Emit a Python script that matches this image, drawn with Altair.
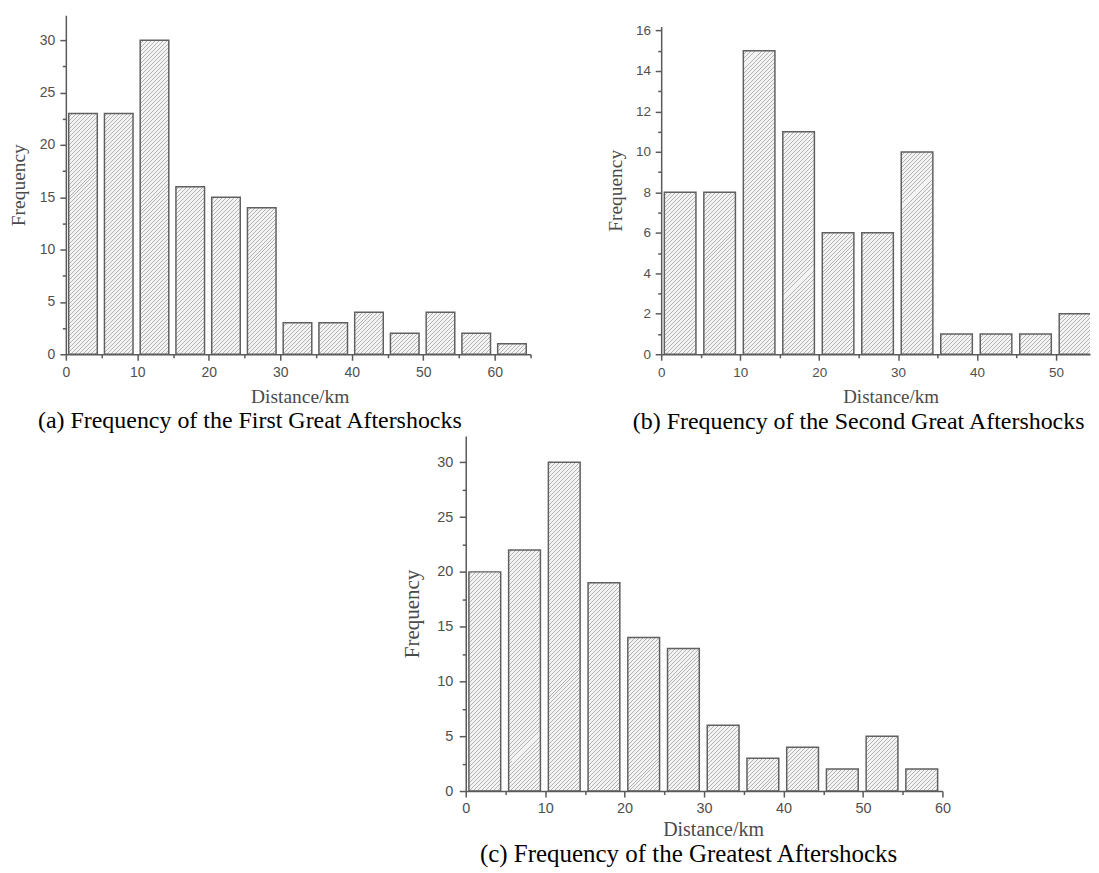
import altair as alt
import pandas as pd

# ---------------- data ----------------
bins_a = [0, 5, 10, 15, 20, 25, 30, 35, 40, 45, 50, 55, 60]
freq_a = [23, 23, 30, 16, 15, 14, 3, 3, 4, 2, 4, 2, 1]

bins_b = [0, 5, 10, 15, 20, 25, 30, 35, 40, 45, 50]
freq_b = [8, 8, 15, 11, 6, 6, 10, 1, 1, 1, 2]

bins_c = [0, 5, 10, 15, 20, 25, 30, 35, 40, 45, 50, 55]
freq_c = [20, 22, 30, 19, 14, 13, 6, 3, 4, 2, 5, 2]

xticks_a = [0, 10, 20, 30, 40, 50, 60]
xminor_a = [5, 15, 25, 35, 45, 55, 65]
yticks_a = [0, 5, 10, 15, 20, 25, 30]
yminor_a = [2.5, 7.5, 12.5, 17.5, 22.5, 27.5]

xticks_b = [0, 10, 20, 30, 40, 50]
xminor_b = [5, 15, 25, 35, 45]
yticks_b = [0, 2, 4, 6, 8, 10, 12, 14, 16]
yminor_b = [1, 3, 5, 7, 9, 11, 13, 15]

xticks_c = [0, 10, 20, 30, 40, 50, 60]
xminor_c = [5, 15, 25, 35, 45, 55]
yticks_c = [0, 5, 10, 15, 20, 25, 30]
yminor_c = [2.5, 7.5, 12.5, 17.5, 22.5, 27.5]

caption_a = "(a) Frequency of the First Great Aftershocks"
caption_b = "(b) Frequency of the Second Great Aftershocks"
caption_c = "(c) Frequency of the Greatest Aftershocks"
x_title = "Distance/km"
y_title = "Frequency"

# ---------------- style ----------------
BAR_L, BAR_R = 0.4, 4.4          # bar inset inside each 5 km bin
AXIS_COL = "#5a5a5a"
BG = "#f3f3f3"
FG = "#b4b4b4"


def hatch(w, h, spacing=4.0, line=1.0):
    """Diagonal '/' hatch as a linear gradient in bbox units."""
    L = w + h
    k = L / (w * w + h * h)
    stops = []
    s = 0.0
    while s < L:
        a = round(s / L, 5)
        b = round(min((s + spacing - line) / L, 1.0), 5)
        c = round(min((s + spacing) / L, 1.0), 5)
        stops += [
            {"offset": a, "color": BG},
            {"offset": b, "color": BG},
            {"offset": b, "color": FG},
            {"offset": c, "color": FG},
        ]
        s += spacing
    return {"gradient": "linear", "x1": 0, "y1": 0,
            "x2": round(k * w, 6), "y2": round(k * h, 6), "stops": stops}


AX = dict(domainColor=AXIS_COL, domainWidth=1.5, tickColor=AXIS_COL, tickWidth=1.5,
          grid=False, labelColor="#505050", labelFont="Liberation Sans",
          titleFont="Liberation Serif", titleColor="#4a4a4a", titleFontWeight="normal",
          labelFlush=False, labelOverlap=False, zindex=1, format="d")

MINOR = dict(labels=False, domain=False, title=None, grid=False, ticks=True,
             tickColor=AXIS_COL, tickWidth=1.5, tickSize=3.5, zindex=1)


def panel(bins, freq, xmax, ymax, width, height, ytop, xt, xm, yt, ym, p, caption):
    df = pd.DataFrame({"start": bins, "freq": freq})
    pxx = width / xmax
    pxy = (height - ytop) / ymax
    conds = [{"test": f"datum.start == {s}", "value": hatch((BAR_R - BAR_L) * pxx, f * pxy)}
             for s, f in zip(bins, freq)]
    xs = alt.Scale(domain=[0, xmax], nice=False, zero=False)
    ys = alt.Scale(domain=[0, ymax], nice=False, range=[height, ytop])
    base = alt.Chart(df).transform_calculate(
        x0=f"datum.start + {BAR_L}", x1=f"datum.start + {BAR_R}")

    x_major = alt.Axis(values=xt, orient="bottom", tickSize=6, labelPadding=p["xlp"],
                       labelFontSize=p["lfs"], title=x_title, titleFontSize=p["xtfs"],
                       titlePadding=p["xtp"], titleX=p["xtx"], **AX)
    y_major = alt.Axis(values=yt, orient="left", tickSize=p["yts"], labelPadding=p["ylp"],
                       labelFontSize=p["lfs"], title=y_title, titleFontSize=p["ytfs"],
                       titlePadding=p["ytp"], **AX)
    x_minor = alt.Axis(values=xm, orient="bottom", **MINOR)
    y_minor = alt.Axis(values=ym, orient="left", **MINOR)

    bars = base.mark_rect(stroke="#606060", strokeWidth=1.5, clip=True).encode(
        x=alt.X("x0:Q", scale=xs, axis=x_major),
        x2="x1:Q",
        y=alt.Y("freq:Q", scale=ys, axis=y_major),
        y2=alt.datum(0),
        fill=alt.value(BG, condition=conds),
    )
    minor = base.mark_rect(opacity=0).encode(
        x=alt.X("x0:Q", scale=xs, axis=x_minor),
        x2="x1:Q",
        y=alt.Y("freq:Q", scale=ys, axis=y_minor),
        y2=alt.datum(0),
    )
    return alt.layer(minor, bars).resolve_axis(x="independent", y="independent").properties(
        width=width, height=height,
        title=alt.TitleParams(caption, orient="bottom", anchor="middle", frame="group",
                              font="Liberation Serif", fontSize=p["cfs"], fontWeight="normal",
                              color="#000000", offset=p["coff"], dx=p["cdx"]),
    )


pa = panel(bins_a, freq_a, 65, 32.4, 466, 340, 0, xticks_a, xminor_a, yticks_a, yminor_a,
           dict(xlp=5, lfs=14, xtfs=19.5, xtp=8, xtx=234.5, yts=6, ylp=5, ytfs=19.5, ytp=10.5,
                cfs=24, coff=3, cdx=-48.5), caption_a)

pb = panel(bins_b, freq_b, 54.3, 16.2, 430, 340, 11.3, xticks_b, xminor_b, yticks_b, yminor_b,
           dict(xlp=5, lfs=13.5, xtfs=19, xtp=9, xtx=230, yts=6, ylp=4.7, ytfs=19.5, ytp=10.5,
                cfs=24, coff=3, cdx=-17), caption_b)

pc = panel(bins_c, freq_c, 60, 32.4, 478, 356, 0, xticks_c, xminor_c, yticks_c, yminor_c,
           dict(xlp=5, lfs=14.5, xtfs=20, xtp=4, xtx=248, yts=6.5, ylp=6.5, ytfs=21, ytp=14,
                cfs=25, coff=2.5, cdx=-15.5), caption_c)

spacer = alt.Chart(pd.DataFrame({"v": [0]})).mark_rect(opacity=0).encode(
    x=alt.value(0), x2=alt.value(1), y=alt.value(0), y2=alt.value(1)
).properties(width=336, height=1)

top = alt.hconcat(pa, pb, spacing=73)
bottom = alt.hconcat(spacer, pc, spacing=0)

chart = alt.vconcat(top, bottom, spacing=2).properties(
    padding={"left": 0, "top": 6, "right": 0, "bottom": 0},
    background="white",
).configure_view(stroke=None)

chart.save("out.html", embed_options={"renderer": "svg", "actions": False})
